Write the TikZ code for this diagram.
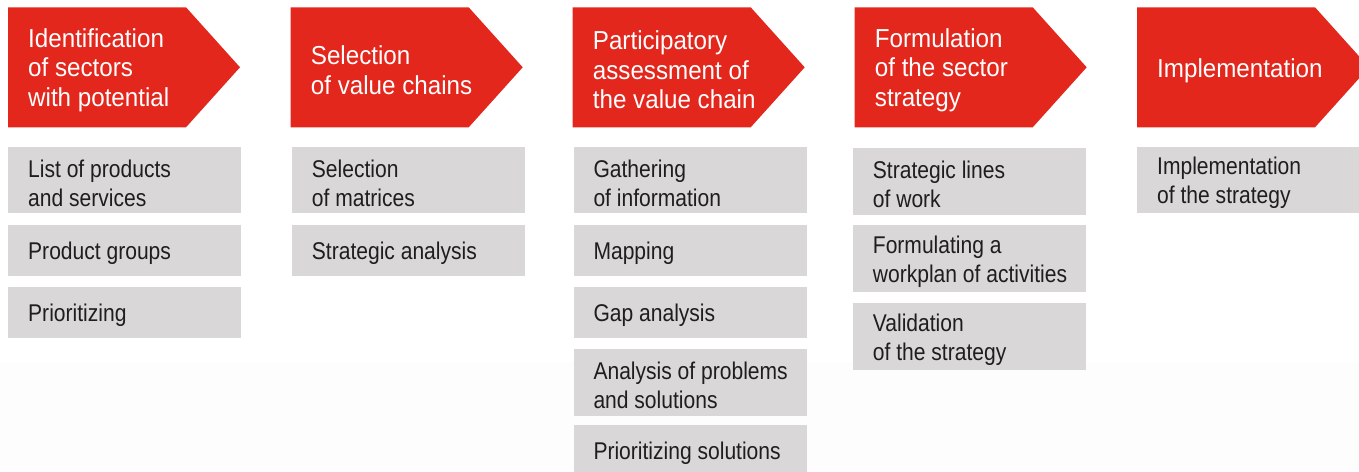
\documentclass[tikz,border=0pt]{standalone}
\usepackage{fontspec}
\setmainfont{Liberation Sans}
\newfontfamily\hdfont[FakeStretch=0.93]{Liberation Sans}
\newfontfamily\bxfont[FakeStretch=0.87]{Liberation Sans}
\definecolor{hred}{HTML}{E3271D}
\definecolor{bgray}{HTML}{D9D7D8}
\definecolor{btext}{HTML}{1E1E1E}
\definecolor{faint}{HTML}{FDFDFD}
\tikzset{
  htext/.style={anchor=west, text=white, align=left, inner sep=0pt,
    font=\hdfont\fontsize{26}{29.5}\selectfont},
  gbox/.style={anchor=north west, fill=bgray, inner sep=0pt, minimum width=233pt},
  gtext/.style={anchor=west, text=btext, align=left, inner sep=0pt,
    font=\bxfont\fontsize{24.2}{29}\selectfont},
  harrow/.style={fill=hred}
}
\newcommand{\headarrow}[1]{%
  \fill[harrow] (#1,7.3) -- ++(178,0) -- ++(54,60) -- ++(-54,60) -- ++(-178,0) -- cycle;}
% box with text: name, x, y, height, text
\newcommand{\gb}[5]{%
  \node[gbox, minimum height=#4pt] (#1) at (#2,#3) {};
  \node[gtext] (#1t) at ([shift={(20,3)}]#1.west) {#5};}
\begin{document}
\begin{tikzpicture}[x=1pt,y=-1pt]
\useasboundingbox (0,0) rectangle (1359,471);
\fill[white] (0,0) rectangle (1359,471);
\fill[faint] (0,362) rectangle (1359,471);

% header arrows
\headarrow{8}
\headarrow{290.7}
\headarrow{572.7}
\headarrow{854.7}
\headarrow{1137}

\node[htext] (h1) at (28,70) {Identification\\of sectors\\with potential};
\node[htext] (h2) at (310.7,70) {Selection\\of value chains};
\node[htext] (h3) at (592.7,70) {Participatory\\assessment of\\the value chain};
\node[htext] (h4) at (874.7,70) {Formulation\\of the sector\\strategy};
\node[htext] (h5) at (1157,71) {Implementation};

% column 1
\gb{b11}{8}{147}{66}{List of products\\and services}
\gb{b12}{8}{225}{51}{Product groups}
\gb{b13}{8}{287}{51}{Prioritizing}

% column 2
\gb{b21}{291.7}{147}{66}{Selection\\of matrices}
\gb{b22}{291.7}{225}{51}{Strategic analysis}

% column 3
\gb{b31}{573.3}{147}{66}{Gathering\\of information}
\gb{b32}{573.3}{225}{51}{Mapping}
\gb{b33}{573.3}{287}{51}{Gap analysis}
\gb{b34}{573.3}{349}{67}{Analysis of problems\\and solutions}
\gb{b35}{573.3}{425}{51}{Prioritizing solutions}

% column 4
\gb{b41}{852.7}{148}{67}{Strategic lines\\of work}
\gb{b42}{852.7}{225}{67}{Formulating a\\workplan of activities}
\gb{b43}{852.7}{303}{67}{Validation\\of the strategy}

% column 5
\gb{b51}{1137}{147}{66}{Implementation\\of the strategy}
\end{tikzpicture}
\end{document}
